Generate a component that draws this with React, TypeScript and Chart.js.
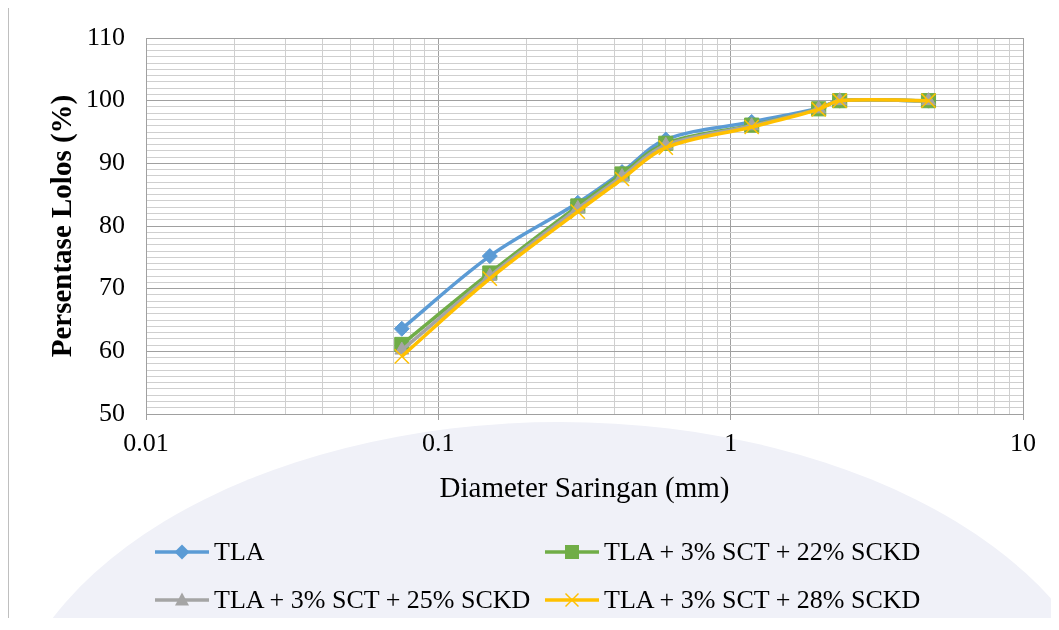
import React, { useEffect, useRef } from "react";
import { Chart, registerables } from "chart.js";

Chart.register(...registerables);

// ---- data ----
const sieveSizes = [0.075, 0.15, 0.3, 0.425, 0.6, 1.18, 2, 2.36, 4.75];
const tla = [63.6, 75.2, 83.7, 88.6, 93.8, 96.6, 98.8, 100, 100];
const tla22 = [61.1, 72.5, 83.2, 88.3, 93.2, 96.1, 98.7, 100, 100];
const tla25 = [60.2, 72.0, 82.8, 87.9, 92.9, 96.0, 98.7, 100, 100];
const tla28 = [59.2, 71.6, 82.3, 87.5, 92.5, 95.8, 98.6, 100, 100];
const seriesNames = [
  "TLA",
  "TLA + 3% SCT + 22% SCKD",
  "TLA + 3% SCT + 25% SCKD",
  "TLA + 3% SCT + 28% SCKD",
];
const xDecades = [0.01, 0.1, 1];
const xMultipliers = [1, 2, 3, 4, 5, 6, 7, 8, 9];
const xMin = 0.01;
const xMax = 10;
const yMin = 50;
const yMax = 110;
const yMajorStep = 10;

const colors = ["#5b9bd5", "#70ad47", "#a5a5a5", "#ffc000"];
const MAJOR = "#a0a0a0";
const MINOR = "#cfcfcf";
const FONT = "'Liberation Serif', 'Times New Roman', serif";

const isDecade = (v: number | undefined) => {
  if (v === undefined || v <= 0) return false;
  const l = Math.log10(v);
  return Math.abs(l - Math.round(l)) < 1e-6;
};

const xTickValues = xDecades
  .flatMap((d) => xMultipliers.map((m) => Number((d * m).toPrecision(6))))
  .concat([xMax]);

function LegendMarker({ idx }: { idx: number }) {
  const c = colors[idx];
  let marker: React.ReactNode = null;
  if (idx === 0) marker = <polygon points="27,2.5 34.5,10 27,17.5 19.5,10" fill={c} />;
  if (idx === 1) marker = <rect x={20} y={3} width={14} height={14} fill={c} />;
  if (idx === 2) marker = <polygon points="27,2.5 34,15.5 20,15.5" fill={c} />;
  if (idx === 3)
    marker = (
      <g stroke={c} strokeWidth={1.5}>
        <line x1={20.5} y1={3.5} x2={33.5} y2={16.5} />
        <line x1={33.5} y1={3.5} x2={20.5} y2={16.5} />
      </g>
    );
  return (
    <svg width={54} height={20} style={{ display: "block" }}>
      <line x1={0} y1={10} x2={54} y2={10} stroke={c} strokeWidth={3.5} />
      {marker}
    </svg>
  );
}

export default function App() {
  const ref = useRef<HTMLCanvasElement | null>(null);

  useEffect(() => {
    document.body.style.overflow = "hidden";
    document.documentElement.style.overflow = "hidden";
    if (!ref.current) return;
    const series = [tla, tla22, tla25, tla28];
    const styles: any[] = [
      { pointStyle: "rectRot", radius: 7.5, bw: 1 },
      { pointStyle: "rect", radius: 10, bw: 1 },
      { pointStyle: "triangle", radius: 8, bw: 1 },
      { pointStyle: "crossRot", radius: 10, bw: 1.5 },
    ];
    const chart = new Chart(ref.current, {
      type: "line",
      data: {
        datasets: series.map((vals, i) => ({
          label: seriesNames[i],
          data: sieveSizes.map((x, j) => ({ x, y: vals[j] })),
          borderColor: colors[i],
          backgroundColor: colors[i],
          borderWidth: 3.5,
          tension: 0.35,
          pointStyle: styles[i].pointStyle,
          pointRadius: styles[i].radius,
          pointBorderWidth: styles[i].bw,
          pointBorderColor: colors[i],
          pointBackgroundColor: colors[i],
          order: 3 - i,
          fill: false,
        })),
      },
      options: {
        animation: false,
        responsive: false,
        layout: { padding: { left: 30, right: 36, top: 30, bottom: 111 } },
        plugins: { legend: { display: false }, tooltip: { enabled: false } },
        scales: {
          x: {
            type: "logarithmic",
            min: xMin,
            max: xMax,
            afterBuildTicks: (scale: any) => {
              scale.ticks = xTickValues.map((v) => ({ value: v, major: isDecade(v) }));
            },
            ticks: {
              autoSkip: false,
              maxRotation: 0,
              minRotation: 0,
              padding: 9,
              color: "#000",
              font: { family: FONT, size: 26 },
              callback: (v: any) => (isDecade(Number(v)) ? String(Number(v)) : ""),
            },
            grid: {
              color: (ctx: any) => (isDecade(ctx.tick?.value) ? MAJOR : MINOR),
              tickColor: (ctx: any) => (isDecade(ctx.tick?.value) ? MAJOR : "rgba(0,0,0,0)"),
              tickLength: 6,
              lineWidth: 1,
            },
            border: { color: MAJOR, width: 1 },
            title: {
              display: true,
              text: "Diameter Saringan (mm)",
              color: "#000",
              font: { family: FONT, size: 29 },
              padding: { top: 3, bottom: 0 },
            },
          },
          y: {
            min: yMin,
            max: yMax,
            afterFit: (scale: any) => {
              scale.width = 107;
              scale.paddingTop = 0;
              scale.paddingBottom = 0;
            },
            ticks: {
              stepSize: 1,
              autoSkip: false,
              padding: 21,
              color: "#000",
              font: { family: FONT, size: 26 },
              callback: (v: any) => (Number(v) % yMajorStep === 0 ? String(v) : ""),
            },
            grid: {
              drawTicks: false,
              color: (ctx: any) => (ctx.tick && ctx.tick.value % yMajorStep === 0 ? MAJOR : MINOR),
              lineWidth: 1,
            },
            border: { color: MAJOR, width: 1 },
            title: {
              display: true,
              text: "Persentase Lolos (%)",
              color: "#000",
              font: { family: FONT, size: 29, weight: "bold" },
              padding: { top: 7, bottom: 5 },
            },
          },
        },
      } as any,
    });
    return () => chart.destroy();
  }, []);

  const legendPos = [
    { left: 146, top: 544 },
    { left: 536, top: 544 },
    { left: 146, top: 592 },
    { left: 536, top: 592 },
  ];

  return (
    <div
      style={{
        position: "relative",
        marginTop: -1,
        width: 1050,
        height: 610,
        borderTop: "1px solid #bfbfbf",
        borderLeft: "1px solid #bfbfbf",
        overflow: "hidden",
        background: "#fff",
      }}
    >
      <div
        style={{
          position: "absolute",
          left: -9,
          top: 414,
          width: 1120,
          height: 680,
          borderRadius: "50%",
          background: "#f0f1f8",
        }}
      />
      <canvas
        ref={ref}
        width={1050}
        height={610}
        style={{ position: "absolute", left: 0, top: 0, width: 1050, height: 610 }}
      />
      {seriesNames.map((name, i) => (
        <div
          key={name}
          style={{
            position: "absolute",
            left: legendPos[i].left,
            top: legendPos[i].top - 15,
            height: 30,
            display: "flex",
            alignItems: "center",
            whiteSpace: "nowrap",
          }}
        >
          <LegendMarker idx={i} />
          <span
            style={{
              marginLeft: 5,
              fontFamily: FONT,
              fontSize: 26,
              lineHeight: "30px",
              color: "#000",
            }}
          >
            {name}
          </span>
        </div>
      ))}
    </div>
  );
}
